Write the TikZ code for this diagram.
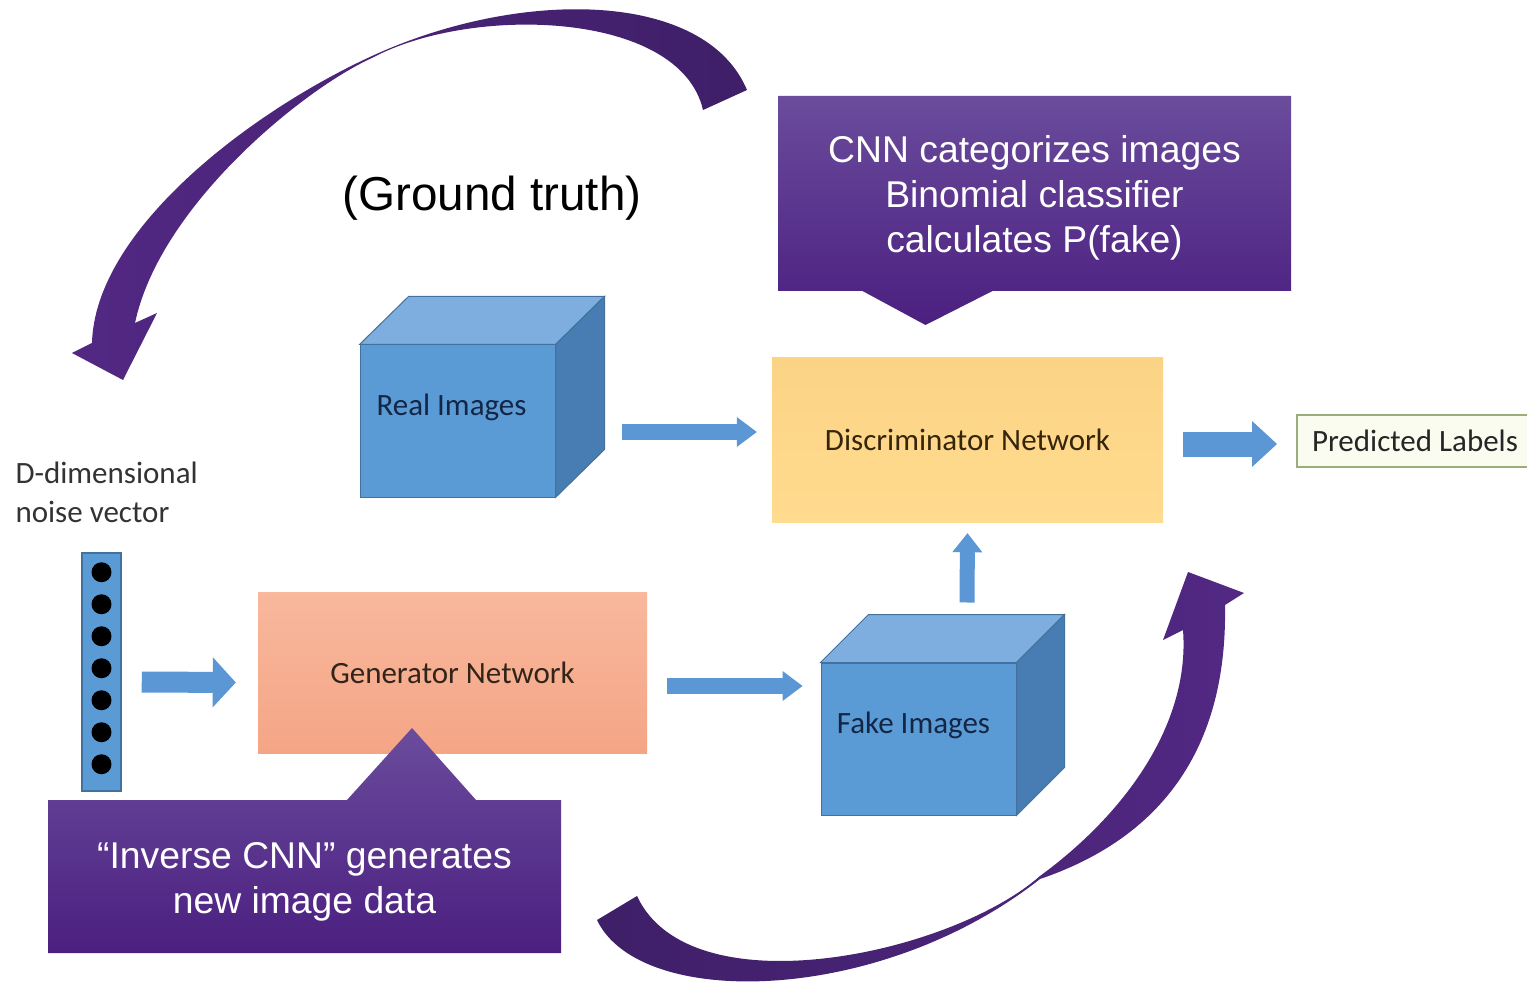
\documentclass[tikz,border=0pt]{standalone}
\usepackage{fontspec}
\setmainfont{Liberation Sans}
\newfontfamily\calib{Carlito}
\usetikzlibrary{arrows.meta,calc}
\definecolor{pdark}{HTML}{3F1F68}
\definecolor{plight}{HTML}{522883}
\definecolor{ctop}{HTML}{6A4C9C}
\definecolor{cbot}{HTML}{4B1F80}
\definecolor{cubefront}{HTML}{5B9BD5}
\definecolor{cubetop}{HTML}{7DAEDF}
\definecolor{cubeside}{HTML}{477DB3}
\definecolor{cubeedge}{HTML}{41719C}
\definecolor{arrowblue}{HTML}{5A97D4}
\definecolor{disctop}{HTML}{FCD385}
\definecolor{discbot}{HTML}{FFDB8F}
\definecolor{gentop}{HTML}{F8B89C}
\definecolor{genbot}{HTML}{F5A586}
\definecolor{predfill}{HTML}{FAFCF0}
\definecolor{predline}{HTML}{9AAE7A}
\definecolor{cubetext}{HTML}{142646}
\definecolor{disctext}{HTML}{35250B}
\definecolor{gentext}{HTML}{33241A}
\begin{document}
\begin{tikzpicture}[x=1pt,y=-1pt,
  smalltext/.style={font=\calib\fontsize{31}{39}\selectfont},
  bigtext/.style={font=\fontsize{37.3}{45}\selectfont, text=white, align=center},
  cubeface/.style={draw=cubeedge, line width=1, fill=cubefront, minimum width=195, minimum height=152, inner sep=0},
  cubelabel/.style={smalltext, text=cubetext},
  boxonly/.style={inner sep=0, outer sep=0},
  bluearr/.style={draw=arrowblue},
]
\useasboundingbox (0,0) rectangle (1527,984);
\clip (0,0) rectangle (1527,984);
\fill[white] (0,0) rectangle (1527,984);

% top curved arrow
\shade[left color=plight, right color=pdark]
 (747,90) .. controls (705,-10) and (520,-12) .. (372,56)
 .. controls (250,112) and (95,230) .. (92,343)
 -- (72,353) -- (123,380) -- (157,313) -- (135,323)
 .. controls (160,205) and (305,88) .. (372,58)
 .. controls (470,5) and (680,10) .. (703,110) -- cycle;

% bottom curved arrow
\shade[left color=pdark, right color=plight]
 (597,920) .. controls (640,1010) and (880,1005) .. (1040,879)
 .. controls (1140,845) and (1228,770) .. (1225,605)
 -- (1244,593) -- (1188,572) -- (1163,640) -- (1183,630)
 .. controls (1190,720) and (1130,810) .. (1040,876)
 .. controls (950,955) and (690,1010) .. (637,896) -- cycle;

% ground truth
\node[font=\fontsize{47.6}{57}\selectfont] (gt) at (492,198) {(Ground truth)};

% noise vector
\node[smalltext, text=black!80, anchor=west, align=left] (noiselbl) at (12,492) {D-dimensional\\noise vector};
\node[draw=cubeedge, line width=1.5, fill=cubefront, minimum width=39, minimum height=238, inner sep=0] (noise) at (101.5,672) {};
\foreach \i in {0,...,6} \fill[black] ($(noise.north)+(0,{20+32*\i})$) circle[radius=10];

% real images cube
\node[cubeface, label={[cubelabel, xshift=-6pt, yshift=14pt]center:Real Images}] (real) at (457.5,421) {};
\fill[cubetop, draw=cubeedge, line width=1] (real.north west) -- ++(49,-48) -- ($(real.north east)+(49,-48)$) -- (real.north east) -- cycle;
\fill[cubeside, draw=cubeedge, line width=1] (real.north east) -- ++(49,-48) -- ($(real.south east)+(49,-48)$) -- (real.south east) -- cycle;

% fake images cube
\node[cubeface, label={[cubelabel, xshift=-5pt, yshift=14pt]center:Fake Images}] (fake) at (918.5,739) {};
\fill[cubetop, draw=cubeedge, line width=1] (fake.north west) -- ++(48,-48) -- ($(fake.north east)+(48,-48)$) -- (fake.north east) -- cycle;
\fill[cubeside, draw=cubeedge, line width=1] (fake.north east) -- ++(48,-48) -- ($(fake.south east)+(48,-48)$) -- (fake.south east) -- cycle;

% discriminator
\node[smalltext, text=disctext, top color=disctop, bottom color=discbot, minimum width=391, minimum height=164, inner sep=0] (disc) at (967.5,440) {Discriminator Network};

% generator
\node[smalltext, text=gentext, top color=gentop, bottom color=genbot, minimum width=389, minimum height=161, inner sep=0] (gen) at (452.5,672.5) {Generator Network};

% predicted labels
\node[smalltext, text=black!85, draw=predline, fill=predfill, line width=2, anchor=west, minimum height=52, inner xsep=15] (pred) at (1296,441) {Predicted Labels};

% blue block arrows
\draw[bluearr, line width=21, -{Triangle[length=23pt,width=50pt,line width=0pt]}] ($(noise.east)+(20,10)$) -- ($(gen.west)+(-22,10)$);
\draw[bluearr, line width=16, -{Triangle[length=20pt,width=30pt,line width=0pt]}] ($(real.east)+(66,11)$) -- ($(disc.west)+(-15,-8)$);
\draw[bluearr, line width=16, -{Triangle[length=20pt,width=30pt,line width=0pt]}] ($(gen.east)+(20,13.5)$) -- ($(fake.west)+(-18,-53)$);
\draw[bluearr, line width=15, -{Triangle[length=19pt,width=30pt,line width=0pt]}] ($(fake.north)+(48.5,-60)$) -- ($(disc.south)+(0,11)$);
\draw[bluearr, line width=25, -{Triangle[length=25pt,width=46pt,line width=0pt]}] ($(disc.east)+(20,4)$) -- ($(pred.west)+(-19,3)$);

% top callout
\path (1034.5,193.5) node[boxonly, minimum width=513, minimum height=195] (cnnbox) {};
\shade[top color=ctop, bottom color=cbot] (cnnbox.north west) -- (cnnbox.north east) -- (cnnbox.south east) -- ($(cnnbox.south)+(-42,0)$) -- ($(cnnbox.south)+(-109,34)$) -- ($(cnnbox.south)+(-172,0)$) -- (cnnbox.south west) -- cycle;
\node[bigtext] (cnn) at ($(cnnbox.center)+(0,4)$) {CNN categorizes images\\Binomial classifier\\calculates P(fake)};

% bottom callout
\path (304.5,876.5) node[boxonly, minimum width=513, minimum height=153] (invbox) {};
\shade[top color=ctop, bottom color=cbot] ($(invbox.north)+(107.5,-72)$) -- ($(invbox.north)+(171.5,0)$) -- (invbox.north east) -- (invbox.south east) -- (invbox.south west) -- (invbox.north west) -- ($(invbox.north)+(42.5,0)$) -- cycle;
\node[bigtext] (inv) at ($(invbox.center)+(0,5)$) {“Inverse CNN” generates\\new image data};
\end{tikzpicture}
\end{document}
